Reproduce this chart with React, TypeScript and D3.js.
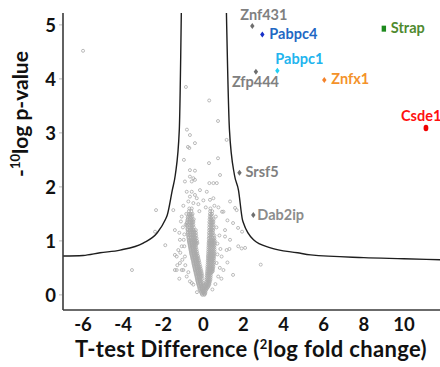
import * as d3 from 'd3';

// threshold curve as [difference, -log10 p]
const leftCurve: [number, number][] = [
  [-7, 0.72], [-6, 0.73], [-5.15, 0.78], [-4.15, 0.83], [-3.0, 0.96], [-2.3, 1.15],
  [-1.9, 1.39], [-1.8, 1.48], [-1.55, 1.94], [-1.4, 2.22], [-1.2, 3.06], [-1.1, 5.22],
];
const rightCurve: [number, number][] = [
  [1.15, 5.22], [1.3, 3.06], [1.55, 2.22], [1.75, 1.94], [1.95, 1.39], [2.0, 1.33],
  [2.5, 1.02], [3.35, 0.87], [4.7, 0.78], [5.35, 0.74], [8.0, 0.69], [10.0, 0.67], [11.85, 0.65],
];

// dense V of the volcano: each row is [y, x, x, x ...]
const denseRows: number[][] = [
  [0.0, -0.05, 0.05],
  [0.04, -0.1, 0.0, 0.1],
  [0.08, -0.15, -0.05, 0.05, 0.12],
  [0.12, -0.2, -0.1, 0.0, 0.1, 0.18],
  [0.16, -0.22, -0.12, -0.02, 0.08, 0.17, 0.25],
  [0.2, -0.25, -0.15, -0.05, 0.12, 0.22, 0.3],
  [0.24, -0.28, -0.18, -0.08, 0.14, 0.24, 0.32],
  [0.28, -0.3, -0.2, -0.1, 0.15, 0.25, 0.35],
  [0.32, -0.33, -0.23, -0.13, 0.16, 0.26, 0.36],
  [0.36, -0.35, -0.25, -0.15, -0.06, 0.17, 0.27, 0.37],
  [0.4, -0.38, -0.28, -0.18, -0.08, 0.18, 0.28, 0.38],
  [0.44, -0.4, -0.3, -0.2, -0.1, 0.19, 0.29, 0.39, 0.47],
  [0.48, -0.43, -0.33, -0.23, -0.13, 0.2, 0.3, 0.4, 0.48],
  [0.52, -0.45, -0.35, -0.25, -0.15, 0.2, 0.3, 0.4, 0.5],
  [0.56, -0.48, -0.38, -0.28, -0.18, 0.21, 0.31, 0.41, 0.5],
  [0.6, -0.5, -0.4, -0.3, -0.2, 0.22, 0.32, 0.42, 0.52],
  [0.64, -0.52, -0.42, -0.32, -0.22, 0.22, 0.32, 0.42, 0.52],
  [0.68, -0.55, -0.45, -0.35, -0.25, 0.23, 0.33, 0.43, 0.53],
  [0.72, -0.57, -0.47, -0.37, -0.27, 0.23, 0.33, 0.43, 0.53],
  [0.76, -0.6, -0.5, -0.4, -0.3, 0.24, 0.34, 0.44, 0.54],
  [0.8, -0.62, -0.52, -0.42, -0.32, 0.24, 0.34, 0.44, 0.55],
  [0.84, -0.64, -0.54, -0.44, -0.34, 0.25, 0.35, 0.45, 0.56],
  [0.88, -0.66, -0.56, -0.46, -0.36, 0.25, 0.35, 0.45, 0.55],
  [0.92, -0.68, -0.58, -0.48, -0.38, 0.26, 0.36, 0.46, 0.56],
  [0.96, -0.7, -0.6, -0.5, -0.4, -0.3, 0.26, 0.36, 0.46, 0.56],
  [1.0, -0.72, -0.62, -0.52, -0.42, -0.32, 0.27, 0.37, 0.47, 0.57],
  [1.05, -0.74, -0.64, -0.54, -0.44, -0.34, 0.27, 0.37, 0.47, 0.55],
  [1.1, -0.76, -0.66, -0.56, -0.46, -0.36, 0.28, 0.38, 0.48, 0.55],
  [1.15, -0.77, -0.67, -0.57, -0.47, -0.37, 0.28, 0.38, 0.48],
  [1.2, -0.78, -0.68, -0.58, -0.48, -0.38, 0.29, 0.39, 0.49],
  [1.25, -0.78, -0.68, -0.58, -0.48, 0.29, 0.39, 0.49],
  [1.3, -0.8, -0.7, -0.6, -0.5, 0.3, 0.4, 0.5],
  [1.35, -0.8, -0.7, -0.6, -0.5, 0.3, 0.4, 0.5],
  [1.4, -0.78, -0.68, -0.58, -0.48, 0.31, 0.41, 0.51],
  [1.45, -0.76, -0.66, -0.56, 0.32, 0.42],
  [1.5, -0.74, -0.64, -0.54, 0.33, 0.43],
  [1.55, -0.72, -0.6, 0.34, 0.44],
  [1.6, -0.7, -0.58, 0.35],
];

// second, offset layer of the same dense V
const denseRowsB: number[][] = [
  [0.02, -0.08, 0.02, 0.08],
  [0.06, -0.12, -0.02, 0.08],
  [0.1, -0.18, -0.08, 0.02, 0.14],
  [0.14, -0.2, -0.07, 0.05, 0.14, 0.22],
  [0.18, -0.24, -0.1, 0.02, 0.17, 0.27],
  [0.22, -0.27, -0.13, 0.0, 0.18, 0.28],
  [0.26, -0.3, -0.15, 0.2, 0.3],
  [0.3, -0.32, -0.17, -0.05, 0.2, 0.31],
  [0.34, -0.34, -0.2, -0.1, 0.21, 0.32],
  [0.38, -0.37, -0.22, -0.12, 0.22, 0.33],
  [0.42, -0.39, -0.25, -0.15, 0.24, 0.34, 0.43],
  [0.46, -0.42, -0.28, -0.18, 0.25, 0.35, 0.44],
  [0.5, -0.44, -0.3, -0.2, 0.25, 0.35, 0.45],
  [0.54, -0.47, -0.33, -0.23, 0.26, 0.36, 0.46],
  [0.58, -0.49, -0.35, -0.25, 0.27, 0.37, 0.47],
  [0.62, -0.51, -0.37, -0.27, 0.27, 0.37, 0.47],
  [0.66, -0.54, -0.4, -0.3, 0.28, 0.38, 0.48],
  [0.7, -0.56, -0.42, -0.32, 0.28, 0.38, 0.48],
  [0.74, -0.59, -0.45, -0.35, 0.29, 0.39, 0.49],
  [0.78, -0.61, -0.47, -0.37, 0.29, 0.39, 0.5],
  [0.82, -0.63, -0.49, -0.39, 0.3, 0.4, 0.5],
  [0.86, -0.65, -0.51, -0.41, 0.3, 0.4, 0.5],
  [0.9, -0.67, -0.53, -0.43, 0.31, 0.41, 0.51],
  [0.94, -0.69, -0.55, -0.45, -0.35, 0.31, 0.41, 0.51],
  [0.98, -0.71, -0.57, -0.47, -0.37, 0.32, 0.42, 0.52],
  [1.02, -0.73, -0.59, -0.49, -0.39, 0.32, 0.42, 0.52],
  [1.07, -0.75, -0.61, -0.51, -0.41, 0.33, 0.43],
  [1.12, -0.77, -0.62, -0.52, -0.42, 0.33, 0.43],
  [1.17, -0.78, -0.63, -0.53, -0.43, 0.34, 0.44],
  [1.22, -0.8, -0.63, -0.53, 0.34, 0.44],
  [1.28, -0.82, -0.65, -0.55, 0.35, 0.45],
  [1.33, -0.83, -0.65, -0.55, 0.35, 0.45],
  [1.38, -0.8, -0.63, -0.53, 0.36, 0.46],
  [1.43, -0.78, -0.61, 0.37],
  [1.48, -0.7, -0.59, 0.38],
];

// sparse proteins around the V, [x, y]
const scatterPoints: [number, number][] = [
  [-6.0, 4.52], [-3.56, 0.46], [-2.36, 1.57], [-2.41, 1.17], [-1.9, 0.92],
  [-0.87, 3.85], [0.29, 3.6], [0.73, 3.22], [-0.82, 3.06], [-0.67, 2.96], [-0.7, 2.72],
  [-0.42, 2.81], [-0.97, 2.5], [0.28, 2.44], [0.73, 2.53], [-0.67, 2.31], [-0.42, 2.3],
  [1.16, 2.87], [-0.77, 2.74], [-0.92, 2.1], [-0.67, 2.19], [-0.5, 2.16], [-0.58, 2.1],
  [-0.42, 2.13], [0.83, 2.22], [0.3, 2.07], [0.5, 2.07], [0.67, 2.07], [-0.83, 1.91],
  [-0.58, 1.91], [-0.42, 1.85], [-0.67, 1.82], [-0.33, 1.79], [-0.75, 1.73], [-0.5, 1.7],
  [-0.17, 1.94], [0.17, 1.91], [0.33, 1.76], [0.5, 1.79], [-1.5, 1.57], [1.33, 1.73],
  [1.66, 1.57], [1.0, 1.54], [-1.42, 1.2], [-1.17, 1.02], [-1.25, 0.83], [-1.33, 0.71],
  [-1.17, 0.59], [-1.0, 0.46], [-0.83, 0.34], [-0.67, 0.25], [-0.5, 0.19], [-1.42, 0.46],
  [-0.92, 0.71], [-1.08, 0.9], [1.08, 1.08], [1.33, 1.02], [1.16, 0.83], [0.91, 0.71],
  [1.0, 0.46], [0.74, 0.34], [1.74, 0.9], [1.91, 0.86], [0.66, 0.59], [1.08, 1.2],
  [1.58, 1.61], [1.48, 1.33], [1.73, 1.24], [1.93, 1.17], [2.08, 0.87], [2.86, 0.56],
  [1.48, 0.37], [0.93, 1.54], [-1.08, 1.45], [-1.42, 0.74], [-1.08, 0.46], [-1.33, 0.46],
  [-0.58, 0.22], [-0.95, 0.9], [-0.88, 1.3], [-0.95, 1.12], [0.65, 1.25], [0.7, 0.95],
  [0.62, 1.45], [-0.2, 1.55], [0.12, 1.62], [-0.9, 0.55], [0.6, 0.2], [0.45, 0.1],
  [-1.2, 0.3], [-1.3, 0.55], [-1.05, 0.65], [-1.15, 0.78], [-0.98, 1.02], [-1.2, 1.15],
  [-1.02, 1.25], [-1.12, 1.36], [0.9, 0.3], [0.82, 0.5], [1.2, 0.6], [0.85, 0.85],
  [1.3, 0.85], [0.8, 1.1], [1.2, 1.38], [0.75, 1.62], [-0.32, 0.05], [-0.75, 0.42],
  [0.7, 0.75], [-0.85, 1.5], [-1.0, 1.65], [0.55, 1.65], [-0.25, 1.68], [0.0, 1.75],
];

// named hits
const hitNames = ['Znf431', 'Pabpc4', 'Pabpc1', 'Zfp444', 'Znfx1', 'Strap', 'Csde1', 'Srsf5', 'Dab2ip'];
const hitX = [2.44, 2.94, 3.69, 2.62, 6.03, 9.0, 11.1, 1.8, 2.49];
const hitY = [4.98, 4.82, 4.15, 4.13, 3.98, 4.93, 3.09, 2.26, 1.48];

const xTicks = [-6, -4, -2, 0, 2, 4, 6, 8, 10];
const yTicks = [0, 1, 2, 3, 4, 5];

const hitStyle: Record<string, { color: string; mark: string; shape: string; dx: number; dy: number }> = {
  Znf431: { color: '#808080', mark: '#6e6e6e', shape: 'diamond', dx: -12, dy: -5.5 },
  Pabpc4: { color: '#1f68c4', mark: '#1730c8', shape: 'diamond', dx: 7, dy: 4.5 },
  Pabpc1: { color: '#22b4ee', mark: '#22d0f5', shape: 'diamond', dx: -2, dy: -7 },
  Zfp444: { color: '#808080', mark: '#6e6e6e', shape: 'diamond', dx: -24, dy: 15 },
  Znfx1: { color: '#f4922a', mark: '#f4822a', shape: 'diamond', dx: 7, dy: 4 },
  Strap: { color: '#4f8a2f', mark: '#1d8a1d', shape: 'square', dx: 7, dy: 4 },
  Csde1: { color: '#ff1010', mark: '#f00000', shape: 'circle', dx: -25, dy: -7.5 },
  Srsf5: { color: '#808080', mark: '#6e6e6e', shape: 'diamond', dx: 6, dy: 4 },
  Dab2ip: { color: '#8c8c8c', mark: '#6e6e6e', shape: 'diamond', dx: 4, dy: 5 },
};

const W = 440;
const H = 367;
const left = 63;
const top = 13;
const bottom = 310;
const font = 'Lato, "Open Sans", sans-serif';

export default function App() {
  const x = d3.scaleLinear().domain([-7, 11.8]).range([left, W]);
  const y = d3.scaleLinear().domain([-0.28, 5.22]).range([bottom, top]);

  const line = d3.line<[number, number]>()
    .x(d => x(d[0]))
    .y(d => y(d[1]))
    .curve(d3.curveMonotoneX);

  const dense: [number, number][] = [];
  denseRows.concat(denseRowsB).forEach(r => r.slice(1).forEach(v => dense.push([v, r[0]])));
  const allPts = dense.concat(scatterPoints);

  return (
    <svg width={W} height={H} style={{ position: 'absolute', left: 0, top: 0, background: '#fff' }}
      fontFamily={font}>
      {/* grey proteins */}
      <g fill="none" stroke="#a9a9a9" strokeWidth={0.8}>
        {allPts.map((p, i) => (
          <circle key={i} cx={x(p[0])} cy={y(p[1])} r={1.5} />
        ))}
      </g>

      {/* threshold */}
      <g fill="none" stroke="#1e1e1e" strokeWidth={1.4}>
        <path d={line(leftCurve) || ''} />
        <path d={line(rightCurve) || ''} />
      </g>

      {/* axes */}
      <g stroke="#3a3a3a" strokeWidth={1.6}>
        <line x1={left} x2={left} y1={top} y2={bottom} />
        <line x1={left} x2={W} y1={bottom} y2={bottom} />
      </g>
      <g stroke="#bbbbbb" strokeWidth={1}>
        {yTicks.map(t => (
          <line key={t} x1={left - 4} x2={left - 1} y1={y(t)} y2={y(t)} />
        ))}
      </g>
      <g fontSize={18.5} fontWeight={700} fill="#111">
        {yTicks.map(t => (
          <text key={t} x={56} y={y(t)} dy="0.36em" textAnchor="end">{t}</text>
        ))}
        {xTicks.map(t => (
          <text key={t} x={x(t)} y={331} textAnchor="middle">{t < 0 ? '-' + Math.abs(t) : t}</text>
        ))}
      </g>

      {/* hits */}
      {hitNames.map((n, i) => {
        const s = hitStyle[n];
        const cx = x(hitX[i]);
        const cy = y(hitY[i]);
        let mark;
        if (s.shape === 'diamond') {
          mark = <path d={`M${cx},${cy - 3}L${cx + 2.2},${cy}L${cx},${cy + 3}L${cx - 2.2},${cy}Z`} fill={s.mark} />;
        } else if (s.shape === 'square') {
          mark = <rect x={cx - 2.2} y={cy - 3} width={4.4} height={6} fill={s.mark} />;
        } else {
          mark = <ellipse cx={cx} cy={cy} rx={2.4} ry={3.2} fill={s.mark} />;
        }
        return (
          <g key={n}>
            {mark}
            <text x={cx + s.dx} y={cy + s.dy} fill={s.color} fontSize={14.5} fontWeight={700}>{n}</text>
          </g>
        );
      })}

      {/* axis titles */}
      <text x={251} y={357} textAnchor="middle" fontSize={22} fontWeight={700} fill="#111" letterSpacing={0.35}>
        T-test Difference (<tspan fontSize={13} dy={-8}>2</tspan><tspan dy={8}>log fold change)</tspan>
      </text>
      <text transform="translate(28,114) rotate(-90)" textAnchor="middle" fontSize={21} fontWeight={700} fill="#111">
        -<tspan fontSize={13} dy={-8}>10</tspan><tspan dy={8}>log p-value</tspan>
      </text>
    </svg>
  );
}
